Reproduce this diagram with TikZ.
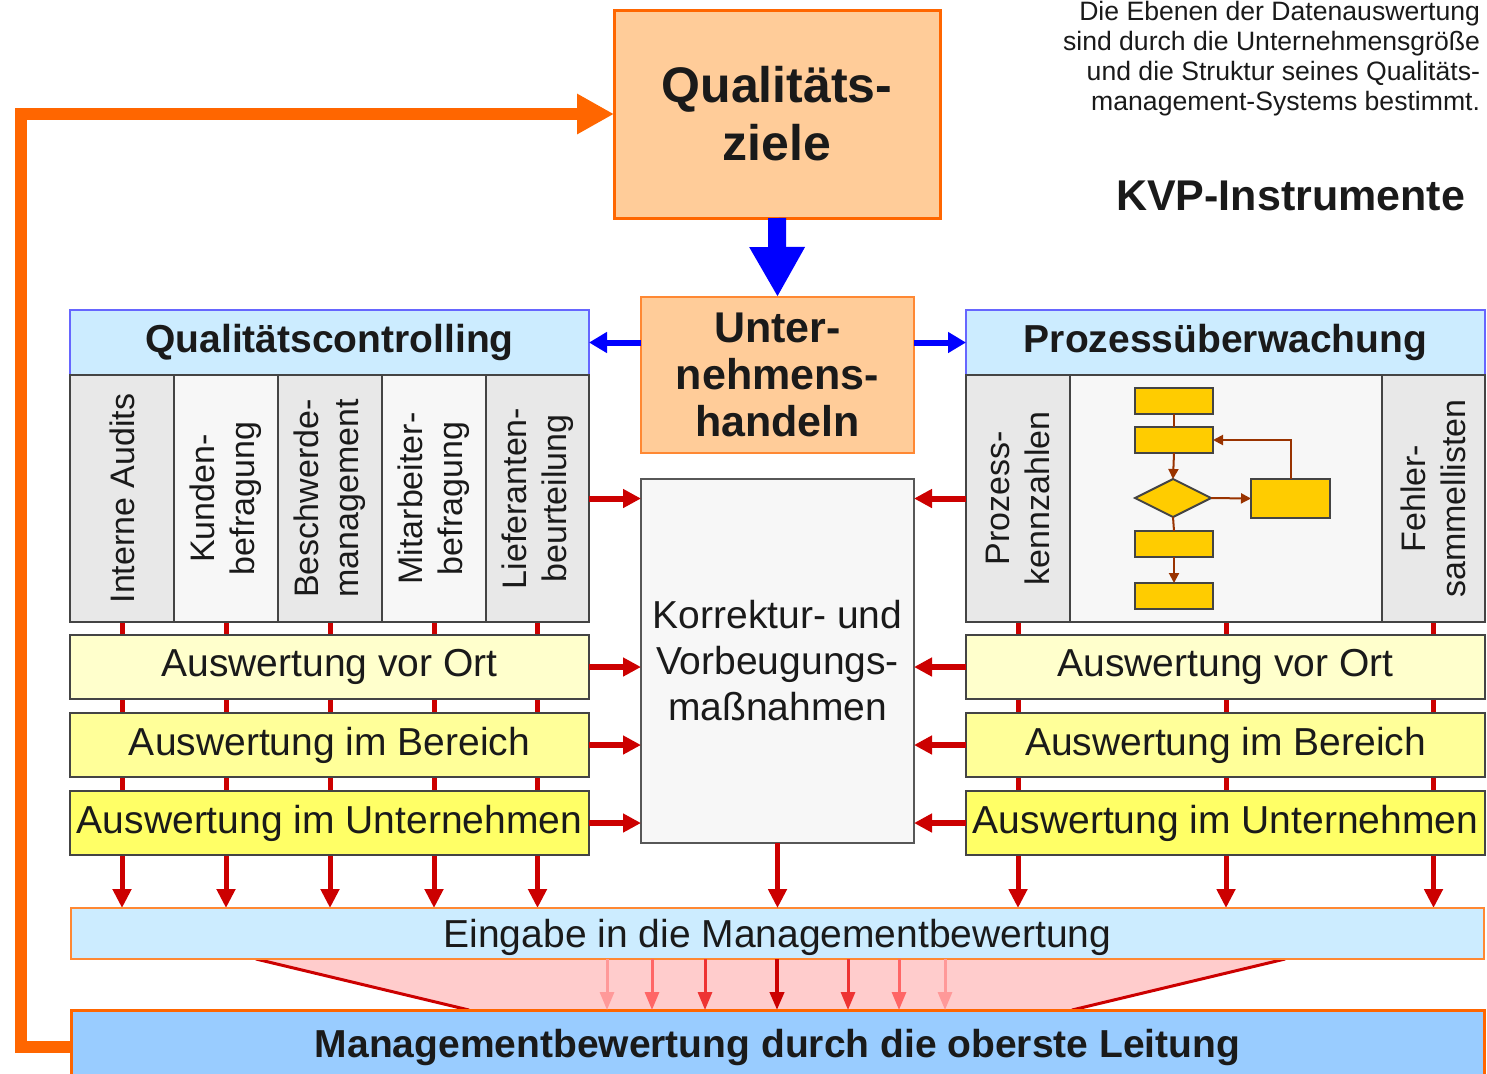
\documentclass[tikz,border=0pt]{standalone}
\usepackage{fontspec}
\setmainfont{Liberation Sans}
\usetikzlibrary{arrows.meta,shapes.geometric}
\pgfdeclarelayer{bg}
\pgfsetlayers{bg,main}
\definecolor{peach}{HTML}{FFCC99}
\definecolor{orng}{HTML}{FF6600}
\definecolor{orngl}{HTML}{FF8833}
\definecolor{hdrblue}{HTML}{CCECFF}
\definecolor{hdrline}{HTML}{6666FF}
\definecolor{gridline}{HTML}{444444}
\definecolor{colgray}{HTML}{E8E8E8}
\definecolor{colwhite}{HTML}{F7F7F7}
\definecolor{yelA}{HTML}{FFFFCC}
\definecolor{yelB}{HTML}{FFFF99}
\definecolor{yelC}{HTML}{FFFF66}
\definecolor{darkred}{HTML}{CC0000}
\definecolor{mgblue}{HTML}{99CCFF}
\definecolor{funnelc}{HTML}{FFCCCC}
\definecolor{flowyel}{HTML}{FFCC00}
\definecolor{flowbrown}{HTML}{993300}
\definecolor{txt}{HTML}{1A1A1A}
\definecolor{frA}{HTML}{FF9999}
\definecolor{frB}{HTML}{FF6666}
\definecolor{frC}{HTML}{EE3333}
\begin{document}
\begin{tikzpicture}[x=0.5pt,y=-0.5pt,
  every node/.style={text=txt, inner sep=0pt, outer sep=0pt},
  goalbox/.style={draw=orng, fill=peach, line width=1.5pt, align=center,
    font=\bfseries\fontsize{25}{29}\selectfont},
  actbox/.style={draw=orngl, fill=peach, line width=1pt, align=center,
    font=\bfseries\fontsize{21.5}{23.5}\selectfont},
  hdr/.style={draw=hdrline, fill=hdrblue, line width=1pt, minimum width=259.5pt,
    minimum height=32.5pt, font=\bfseries\fontsize{19.5}{22}\selectfont},
  colbox/.style={draw=gridline, line width=1pt, rotate=90, minimum width=123.5pt,
    minimum height=52pt, align=center, font=\fontsize{17}{20}\selectfont},
  rowbox/.style={draw=gridline, line width=1pt, minimum width=259.5pt,
    minimum height=32pt, font=\fontsize{19.5}{22}\selectfont},
  korbox/.style={draw=gridline!90, fill=colwhite, line width=1pt, minimum width=136.5pt,
    minimum height=182pt, align=center, font=\fontsize{19.5}{23}\selectfont},
  redarr/.style={draw=darkred, line width=3pt, -{Triangle[length=9pt,width=9pt]}},
  reddown/.style={draw=darkred, line width=2.5pt, -{Triangle[length=9.5pt,width=9pt]}},
  bluearr/.style={draw=blue, line width=3pt, -{Triangle[length=9pt,width=10pt]}},
  bigblue/.style={draw=blue, line width=9pt, -{Triangle[length=25pt,width=26pt]}},
  orangearr/.style={draw=orng, line width=6pt, line join=miter, -{Triangle[length=18.5pt,width=19pt]}},
  flowbox/.style={draw=gridline, fill=flowyel, line width=1pt, minimum width=39pt, minimum height=13pt},
  flowarr/.style={draw=flowbrown, line width=1pt, -{Triangle[length=5pt,width=5pt]}},
  flowline/.style={draw=flowbrown, line width=1pt},
  funarr/.style={line width=1.5pt, -{Triangle[length=9pt,width=7pt]}}
]
\useasboundingbox (0,0) rectangle (1487,1073);
\clip (0,0) rectangle (1487,1073);

% top right notes
\node[anchor=north east, align=right, font=\fontsize{13.3}{15}\selectfont] (note) at (1480,1)
  {Die Ebenen der Datenauswertung\\sind durch die Unternehmensgröße\\und die Struktur seines Qualitäts-\\management-Systems bestimmt.};
\node[anchor=base east, font=\bfseries\fontsize{21.5}{24}\selectfont] (kvp) at (1465,210) {KVP-Instrumente};

% main boxes
\node[goalbox, minimum width=163pt, minimum height=104pt] (qz) at (777,114) {Qualitäts-\\ziele};
\node[actbox, minimum width=136.5pt, minimum height=78pt] (unt) at (777.5,375) {Unter-\\nehmens-\\handeln};

\node[hdr] (qc) at (329.5,342.5) {Qualitätscontrolling};
\node[hdr] (pu) at (1225.5,342.5) {Prozessüberwachung};

% left columns
\node[colbox, fill=colgray] (lc1) at (122,498.5) {Interne Audits};
\node[colbox, fill=colwhite] (lc2) at (226,498.5) {Kunden-\\befragung};
\node[colbox, fill=colgray] (lc3) at (330,498.5) {Beschwerde-\\management};
\node[colbox, fill=colwhite] (lc4) at (434,498.5) {Mitarbeiter-\\befragung};
\node[colbox, fill=colgray, minimum height=51.5pt] (lc5) at (537.5,498.5) {Lieferanten-\\beurteilung};

% right columns
\node[colbox, fill=colgray] (rc1) at (1018,498.5) {Prozess-\\kennzahlen};
\node[colbox, fill=colwhite, minimum height=156pt] (rc2) at (1226,498.5) {};
\node[colbox, fill=colgray, minimum height=51.5pt] (rc3) at (1433.5,498.5) {Fehler-\\sammellisten};

% flowchart
\node[flowbox] (fb1) at (1174,401) {};
\node[flowbox] (fb2) at (1174,440) {};
\node[diamond, draw=gridline, fill=flowyel, line width=1pt, minimum width=38pt, minimum height=19pt, aspect=2] (dia) at (1173,498) {};
\node[flowbox, minimum width=39.5pt, minimum height=19.5pt] (fb3) at (1290.5,498.5) {};
\node[flowbox] (fb4) at (1174,544) {};
\node[flowbox] (fb5) at (1174,596) {};
\draw[flowline] (fb1.south) -- (fb2.north);
\draw[flowarr] (fb2.south) -- (dia.north);
\draw[flowarr] (dia.east) -- (fb3.west);
\draw[flowarr] (fb3.north) |- (fb2.east);
\draw[flowline] (dia.south) -- (fb4.north);
\draw[flowarr] (fb4.south) -- (fb5.north);

% rows
\node[rowbox, fill=yelA] (lr1) at (329.5,667) {Auswertung vor Ort};
\node[rowbox, fill=yelB] (lr2) at (329.5,745) {Auswertung im Bereich};
\node[rowbox, fill=yelC] (lr3) at (329.5,823) {Auswertung im Unternehmen};
\node[rowbox, fill=yelA] (rr1) at (1225.5,667) {Auswertung vor Ort};
\node[rowbox, fill=yelB] (rr2) at (1225.5,745) {Auswertung im Bereich};
\node[rowbox, fill=yelC] (rr3) at (1225.5,823) {Auswertung im Unternehmen};

% central box
\node[korbox] (kor) at (777.5,661) {Korrektur- und\\Vorbeugungs-\\maßnahmen};

% input and management
\fill[funnelc] (256,959) -- (1285,959) -- (1072,1010) -- (469,1010) -- cycle;
\draw[darkred, line width=1.5pt] (256,959) -- (469,1010);
\draw[darkred, line width=1.5pt] (1285,959) -- (1072,1010);
\node[draw=orngl, fill=hdrblue, line width=1pt, minimum width=706.5pt, minimum height=25.5pt,
  text depth=0pt, font=\fontsize{19.5}{22}\selectfont] (eing) at (777.5,933.5) {Eingabe in die Managementbewertung};
\node[draw=orng, fill=mgblue, line width=1.5pt, minimum width=706.5pt, minimum height=37pt,
  font=\bfseries\fontsize{19.5}{22}\selectfont] (mgmt) at (777.5,1047) {Managementbewertung durch die oberste Leitung};

% vertical red lines behind boxes
\begin{pgfonlayer}{bg}
\foreach \c in {lc1,lc2,lc3,lc4,lc5,rc1,rc2,rc3}
  \draw[reddown] (\c.center) -- (eing.north -| \c.center);
\end{pgfonlayer}
\draw[reddown] (kor.south) -- (eing.north -| kor.south);

% red arrows into Korrektur box
\draw[redarr] (lr1.east |- lc5.center) -- (kor.west |- lc5.center);
\draw[redarr] (lr1.east) -- (kor.west |- lr1.east);
\draw[redarr] (lr2.east) -- (kor.west |- lr2.east);
\draw[redarr] (lr3.east) -- (kor.west |- lr3.east);
\draw[redarr] (rr1.west |- rc1.center) -- (kor.east |- rc1.center);
\draw[redarr] (rr1.west) -- (kor.east |- rr1.west);
\draw[redarr] (rr2.west) -- (kor.east |- rr2.west);
\draw[redarr] (rr3.west) -- (kor.east |- rr3.west);

% funnel arrows
\coordinate (f1) at (607,0);
\coordinate (f2) at (652,0);
\coordinate (f3) at (705,0);
\coordinate (f4) at (777,0);
\coordinate (f5) at (848,0);
\coordinate (f6) at (899,0);
\coordinate (f7) at (945,0);
\draw[funarr, frA] (eing.south -| f1) -- (mgmt.north -| f1);
\draw[funarr, frB] (eing.south -| f2) -- (mgmt.north -| f2);
\draw[funarr, frC] (eing.south -| f3) -- (mgmt.north -| f3);
\draw[funarr, darkred, line width=2pt] (eing.south -| f4) -- (mgmt.north -| f4);
\draw[funarr, frC] (eing.south -| f5) -- (mgmt.north -| f5);
\draw[funarr, frB] (eing.south -| f6) -- (mgmt.north -| f6);
\draw[funarr, frA] (eing.south -| f7) -- (mgmt.north -| f7);

% blue arrows
\draw[bigblue] (qz.south) -- (unt.north);
\draw[bluearr] (unt.west |- qc.east) -- (qc.east);
\draw[bluearr] (unt.east |- pu.west) -- (pu.west);

% orange feedback
\coordinate (oleft) at (21,0);
\draw[orangearr] (mgmt.west) -- (mgmt.west -| oleft) |- (qz.west);
\end{tikzpicture}
\end{document}
